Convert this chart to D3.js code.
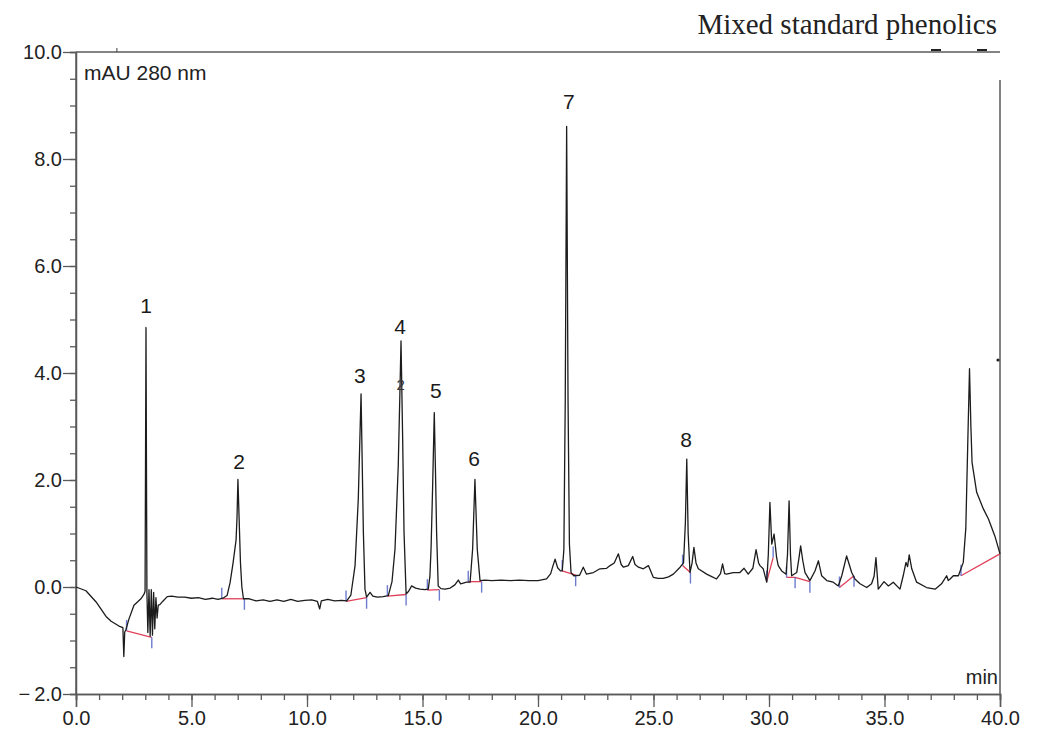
<!DOCTYPE html>
<html><head><meta charset="utf-8">
<script src="https://cdn.jsdelivr.net/npm/d3@7"></script>
<style>body{margin:0;background:#fff} svg{display:block}</style>
</head><body>
<svg id="c" width="1039" height="729"></svg>
<script>
// ---- data (retention time in min, absorbance in mAU) ----
const times = [0.00,0.43,0.87,1.30,1.52,1.86,2.03,2.07,2.11,2.16,2.29,2.51,2.81,2.94,2.99,3.03,3.07,3.11,3.16,3.21,3.26,3.31,3.36,3.41,3.46,3.51,3.56,3.63,3.75,3.95,4.15,4.40,4.70,5.00,5.30,5.60,5.90,6.15,6.36,6.54,6.67,6.80,6.93,6.97,7.01,7.06,7.12,7.18,7.25,7.50,7.80,8.10,8.40,8.70,9.00,9.30,9.60,9.90,10.20,10.45,10.55,10.62,10.90,11.20,11.50,11.72,11.90,12.08,12.22,12.34,12.44,12.51,12.58,12.73,12.85,13.05,13.30,13.52,13.68,13.81,13.95,14.02,14.07,14.14,14.20,14.29,14.40,14.53,14.70,14.89,15.10,15.25,15.32,15.37,15.44,15.51,15.56,15.61,15.68,15.80,15.97,16.20,16.40,16.55,16.65,16.91,17.06,17.17,17.27,17.37,17.49,17.71,18.00,18.40,18.80,19.20,19.60,20.00,20.37,20.55,20.65,20.74,20.85,20.97,21.05,21.12,21.18,21.24,21.30,21.36,21.43,21.55,21.80,21.96,22.10,22.40,22.68,22.97,23.12,23.30,23.48,23.60,23.70,23.91,24.10,24.20,24.35,24.56,24.78,24.99,25.20,25.42,25.65,25.86,26.15,26.30,26.38,26.44,26.50,26.58,26.67,26.75,26.84,26.94,27.30,27.50,27.73,27.90,27.99,28.08,28.16,28.45,28.74,28.92,29.10,29.30,29.44,29.55,29.61,29.75,29.90,29.97,30.04,30.12,30.22,30.33,30.40,30.55,30.74,30.80,30.87,30.93,30.98,31.20,31.30,31.37,31.46,31.56,31.77,31.99,32.14,32.28,32.50,32.78,33.00,33.15,33.36,33.58,33.72,33.94,34.23,34.44,34.55,34.63,34.73,34.98,35.17,35.38,35.67,35.81,35.93,36.00,36.07,36.18,36.39,36.82,37.19,37.47,37.69,37.76,37.84,37.98,38.20,38.41,38.52,38.60,38.68,38.74,38.79,38.99,39.28,39.50,39.78,40.00];
const signal = [0.00,-0.07,-0.28,-0.55,-0.64,-0.73,-0.76,-1.30,-0.84,-0.80,-0.60,-0.34,-0.22,-0.14,-0.08,4.85,-0.10,-0.85,-0.05,-0.92,-0.05,-0.90,-0.10,-0.78,-0.20,-0.58,-0.34,-0.33,-0.27,-0.18,-0.17,-0.19,-0.19,-0.21,-0.20,-0.23,-0.21,-0.23,-0.21,-0.16,0.08,0.45,0.88,1.30,2.01,1.30,0.45,0.00,-0.22,-0.22,-0.26,-0.24,-0.27,-0.24,-0.27,-0.23,-0.27,-0.25,-0.24,-0.27,-0.41,-0.26,-0.23,-0.26,-0.25,-0.26,-0.15,0.40,1.64,3.61,1.03,-0.04,-0.19,-0.10,-0.17,-0.19,-0.18,-0.16,0.10,0.71,2.26,3.60,4.60,2.80,1.03,-0.13,-0.08,0.02,-0.02,-0.04,-0.05,-0.04,0.20,0.71,1.90,3.26,2.20,1.03,0.02,-0.03,-0.04,-0.02,0.04,0.13,0.06,0.09,0.09,0.71,2.01,0.71,0.12,0.13,0.12,0.13,0.12,0.13,0.12,0.12,0.15,0.25,0.40,0.52,0.36,0.30,0.30,0.70,3.50,8.61,3.50,0.80,0.27,0.21,0.22,0.37,0.24,0.27,0.34,0.35,0.40,0.45,0.62,0.42,0.37,0.40,0.57,0.42,0.37,0.34,0.40,0.18,0.16,0.16,0.19,0.24,0.37,0.45,1.20,2.39,1.00,0.27,0.45,0.74,0.45,0.34,0.24,0.20,0.15,0.25,0.43,0.25,0.24,0.27,0.27,0.35,0.24,0.35,0.70,0.45,0.40,0.34,0.09,0.60,1.58,0.80,0.99,0.55,0.40,0.30,0.24,0.60,1.61,0.60,0.21,0.27,0.55,0.77,0.50,0.27,0.12,0.30,0.49,0.21,0.12,0.09,0.02,0.21,0.58,0.27,0.15,0.06,-0.01,0.06,0.20,0.55,-0.04,0.10,0.02,0.09,-0.04,0.21,0.46,0.38,0.60,0.34,0.09,-0.01,-0.04,0.06,0.21,0.12,0.15,0.21,0.21,0.46,1.10,2.60,4.08,3.00,2.33,1.77,1.46,1.27,0.95,0.62];

const peakLabels = ["1","2","3","4","5","6","7","8"];
const peakLabelTimes = [3.03,7.06,12.29,14.03,15.58,17.23,21.34,26.41];
const peakLabelValues = [5.13,2.20,3.82,4.72,3.53,2.26,8.94,2.61];

const baselineSegments = [
  [[2.19,-0.82],[3.28,-0.94]],
  [[6.31,-0.22],[7.29,-0.22]],
  [[11.69,-0.27],[12.58,-0.20]],
  [[13.48,-0.17],[14.29,-0.14]],
  [[15.21,-0.06],[15.73,-0.05]],
  [[16.98,0.10],[17.56,0.10]],
  [[21.05,0.30],[21.63,0.22]],
  [[26.26,0.40],[26.60,0.27]],
  [[29.90,0.10],[30.18,0.55]],
  [[30.76,0.18],[31.13,0.18],[31.77,0.10]],
  [[33.05,-0.01],[33.68,0.21]],
  [[38.31,0.21],[40.00,0.62]]
];
// [time, value, direction: 1 = up, -1 = down]
const markers = [[2.19,-0.82,1],[3.28,-0.94,-1],[6.31,-0.22,1],[7.29,-0.22,-1],[11.69,-0.27,1],[12.58,-0.20,-1],
  [13.48,-0.17,1],[14.29,-0.14,-1],[15.21,-0.06,1],[15.73,-0.05,-1],[16.98,0.10,1],[17.56,0.10,-1],
  [21.05,0.30,1],[21.63,0.22,-1],[26.26,0.40,1],[26.60,0.27,-1],[29.90,0.10,1],[30.18,0.55,1],
  [30.76,0.18,1],[31.13,0.18,-1],[31.77,0.10,-1],[33.05,-0.01,1],[33.68,0.21,-1],[38.31,0.21,1]];

const xTicks = [0,5,10,15,20,25,30,35,40];
const yTicks = [-2,0,2,4,6,8,10];

// ---- drawing ----
const svg = d3.select("#c");
const x = d3.scaleLinear().domain([0,40]).range([76,1000]);
const y = d3.scaleLinear().domain([-2,10]).range([694,52]);
const axisColor = "#5a5a5a";
const font = "'Liberation Sans', Arial, sans-serif";

// title
svg.append("text").attr("x",997).attr("y",34).attr("text-anchor","end")
  .attr("font-family","'Liberation Serif','Times New Roman',serif").attr("font-size",29)
  .attr("fill","#222").text("Mixed standard phenolics");

// frame lines (top and right)
svg.append("line").attr("x1",76).attr("x2",1000).attr("y1",52).attr("y2",52).attr("stroke",axisColor).attr("stroke-width",1.5);
svg.append("line").attr("x1",1000).attr("x2",1000).attr("y1",80).attr("y2",694).attr("stroke",axisColor).attr("stroke-width",1.5);
svg.append("line").attr("x1",x(1.77)).attr("x2",x(1.77)).attr("y1",48).attr("y2",52).attr("stroke","#444");
svg.append("line").attr("x1",931).attr("x2",941).attr("y1",50).attr("y2",50).attr("stroke","#222").attr("stroke-width",2);
svg.append("line").attr("x1",977).attr("x2",987).attr("y1",50).attr("y2",50).attr("stroke","#222").attr("stroke-width",2);
svg.append("circle").attr("cx",998).attr("cy",360).attr("r",1.6).attr("fill","#222");

// y axis
const yAxis = svg.append("g").attr("transform","translate(76,0)")
  .call(d3.axisLeft(y).tickValues(d3.range(-2,10.01,0.5)).tickSize(6).tickFormat(""));
const yMajor = svg.append("g").attr("transform","translate(76,0)")
  .call(d3.axisLeft(y).tickValues(yTicks).tickSize(13).tickPadding(1)
    .tickFormat(d => d < 0 ? "\u2212\u20092.0" : d3.format(".1f")(d)));
// x axis
const xAxis = svg.append("g").attr("transform","translate(0,694)")
  .call(d3.axisBottom(x).tickValues(d3.range(0,40.01,1)).tickSize(6).tickFormat(""));
const xMajor = svg.append("g").attr("transform","translate(0,694)")
  .call(d3.axisBottom(x).tickValues(xTicks).tickSize(13).tickPadding(2).tickFormat(d3.format(".1f")));
[yAxis,yMajor,xAxis,xMajor].forEach(g => {
  g.select(".domain").attr("stroke",axisColor).attr("stroke-width",1.5);
  g.selectAll(".tick line").attr("stroke",axisColor).attr("stroke-width",1.3);
  g.selectAll(".tick text").attr("font-family",font).attr("font-size",20).attr("fill","#222");
});
yMajor.select(".domain").attr("d",`M0,${y(10)}V${y(-2)}`);
xMajor.selectAll(".tick text").attr("dy","0.78em");

svg.append("text").attr("x",84).attr("y",80).attr("font-family",font).attr("font-size",21)
  .attr("fill","#222").text("mAU 280 nm");
svg.append("text").attr("x",998).attr("y",684).attr("text-anchor","end").attr("font-family",font)
  .attr("font-size",20).attr("fill","#222").text("min");

// baselines (red)
const line = d3.line().x(d => x(d[0])).y(d => y(d[1]));
svg.append("g").selectAll("path").data(baselineSegments).join("path")
  .attr("d",line).attr("fill","none").attr("stroke","#e0405a").attr("stroke-width",1.3);
// markers (blue)
svg.append("g").selectAll("line").data(markers).join("line")
  .attr("x1",d => x(d[0])).attr("x2",d => x(d[0]))
  .attr("y1",d => y(d[1])).attr("y2",d => y(d[1]) - d[2]*11)
  .attr("stroke","#5566c8").attr("stroke-width",1.4).attr("opacity",0.85);

// trace
const trace = times.map((t,i) => [t, signal[i]]);
svg.append("path").datum(trace).attr("d",line).attr("fill","none")
  .attr("stroke","#1c1c1c").attr("stroke-width",1.3).attr("stroke-linejoin","round");

// odd marker near peak 4
svg.append("text").attr("x",x(14.05)).attr("y",390).attr("text-anchor","middle").attr("font-family",font)
  .attr("font-size",15).attr("fill","#333").text("2");

// peak labels
svg.append("g").selectAll("text").data(peakLabels).join("text")
  .attr("x",(d,i) => x(peakLabelTimes[i])).attr("y",(d,i) => y(peakLabelValues[i]))
  .attr("text-anchor","middle").attr("font-family",font).attr("font-size",21).attr("fill","#1a1a1a")
  .text(d => d);
</script>
</body></html>
